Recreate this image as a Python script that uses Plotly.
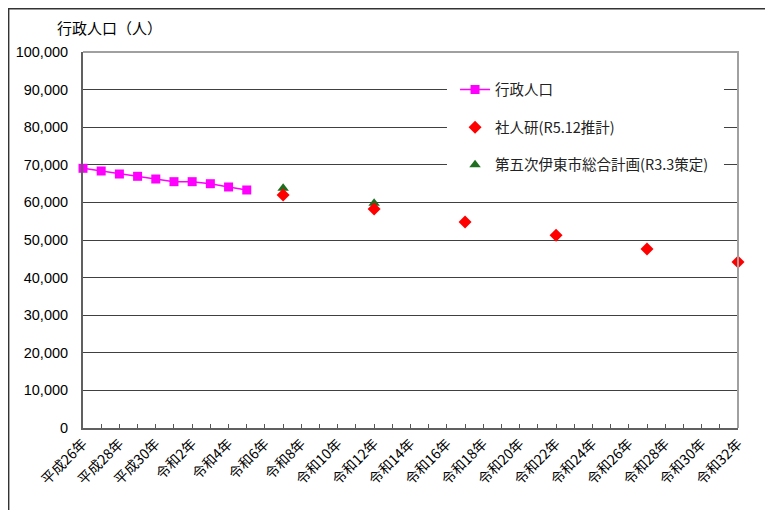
import plotly.graph_objects as go

# Data
pop_years = [2014, 2015, 2016, 2017, 2018, 2019, 2020, 2021, 2022, 2023]
pop_values = [69070, 68350, 67550, 66940, 66220, 65510, 65510, 64970, 64100, 63300]

ipss_years = [2025, 2030, 2035, 2040, 2045, 2050]
ipss_values = [62000, 58240, 54790, 51250, 47600, 44150]

plan_years = [2025, 2030]
plan_values = [63750, 59760]

tick_years = [2014, 2016, 2018, 2020, 2022, 2024, 2026, 2028, 2030, 2032,
              2034, 2036, 2038, 2040, 2042, 2044, 2046, 2048, 2050]
tick_labels = ["平成26年", "平成28年", "平成30年", "令和2年", "令和4年", "令和6年",
               "令和8年", "令和10年", "令和12年", "令和14年", "令和16年", "令和18年",
               "令和20年", "令和22年", "令和24年", "令和26年", "令和28年", "令和30年",
               "令和32年"]

FONT = "Liberation Sans, Noto Sans CJK JP, sans-serif"
JFONT = "Noto Sans CJK JP, sans-serif"

fig = go.Figure()
fig.add_trace(go.Scatter(
    x=pop_years, y=pop_values, mode="lines+markers", name="行政人口",
    line=dict(color="#FF00FF", width=1.5),
    marker=dict(symbol="square", size=9, color="#FF00FF"),
    cliponaxis=False, legend="legend", showlegend=True))
fig.add_trace(go.Scatter(
    x=plan_years, y=plan_values, mode="markers", name="第五次伊東市総合計画(R3.3策定)",
    marker=dict(symbol="triangle-up", size=10, color="#1F6E1F"),
    cliponaxis=False, legend="legend3", showlegend=True))
fig.add_trace(go.Scatter(
    x=ipss_years, y=ipss_values, mode="markers", name="社人研(R5.12推計)",
    marker=dict(symbol="diamond", size=10, color="#FF0000"),
    cliponaxis=False, legend="legend2", showlegend=True))

leg_common = dict(xanchor="left", yanchor="middle", bgcolor="rgba(0,0,0,0)",
                  font=dict(family=JFONT, size=14.5, color="#222"), borderwidth=0)
lx = 0.568

fig.update_layout(
    width=765, height=502,
    margin=dict(l=75, r=35, t=44, b=82, autoexpand=False),
    showlegend=True,
    paper_bgcolor="white", plot_bgcolor="white",
    font=dict(family=FONT, size=13, color="#000"),
    legend=dict(x=lx, y=0.9, **leg_common),
    legend2=dict(x=lx, y=0.8, **leg_common),
    legend3=dict(x=lx, y=0.7, **leg_common),
    xaxis=dict(
        range=[2014, 2050], tickmode="array", tickvals=tick_years, ticktext=tick_labels,
        tickangle=-45, ticks="inside", ticklen=4, tickcolor="#555", automargin=False,
        minor=dict(dtick=1, tick0=2014, ticks="inside", ticklen=4, tickcolor="#555"),
        showline=True, linecolor="#606060", linewidth=2, showgrid=False, zeroline=False,
        tickfont=dict(family=JFONT, size=14, color="#000")),
    yaxis=dict(
        range=[0, 100000], dtick=10000, tickformat=",", showgrid=True, automargin=False,
        gridcolor="#404040", gridwidth=1, showline=True, linecolor="#606060", linewidth=2,
        zeroline=False, ticks="", ticklabelstandoff=10,
        tickfont=dict(family=FONT, size=14.5, color="#000")),
    shapes=[
        # white box behind legend
        dict(type="rect", xref="paper", yref="paper", x0=0.5557, x1=0.9786, y0=0.655, y1=0.945,
             fillcolor="white", line=dict(width=0), layer="above"),
        # top and right frame
        dict(type="path", xref="paper", yref="paper", path="M 0 1 L 1 1 L 1 0",
             line=dict(color="#A0A0A0", width=2), layer="above"),
        # outer border
        dict(type="path", xref="paper", yref="paper",
             path="M -0.1135 -0.25 L -0.1135 1.115 L 1.1 1.115",
             line=dict(color="#333", width=1.5), layer="above"),
    ],
    annotations=[
        dict(text="行政人口（人）", xref="paper", yref="paper", x=-0.043, y=1.064,
             xanchor="left", yanchor="middle", showarrow=False,
             font=dict(family=JFONT, size=15, color="#000")),
    ],
)

fig.write_html("out.html")
